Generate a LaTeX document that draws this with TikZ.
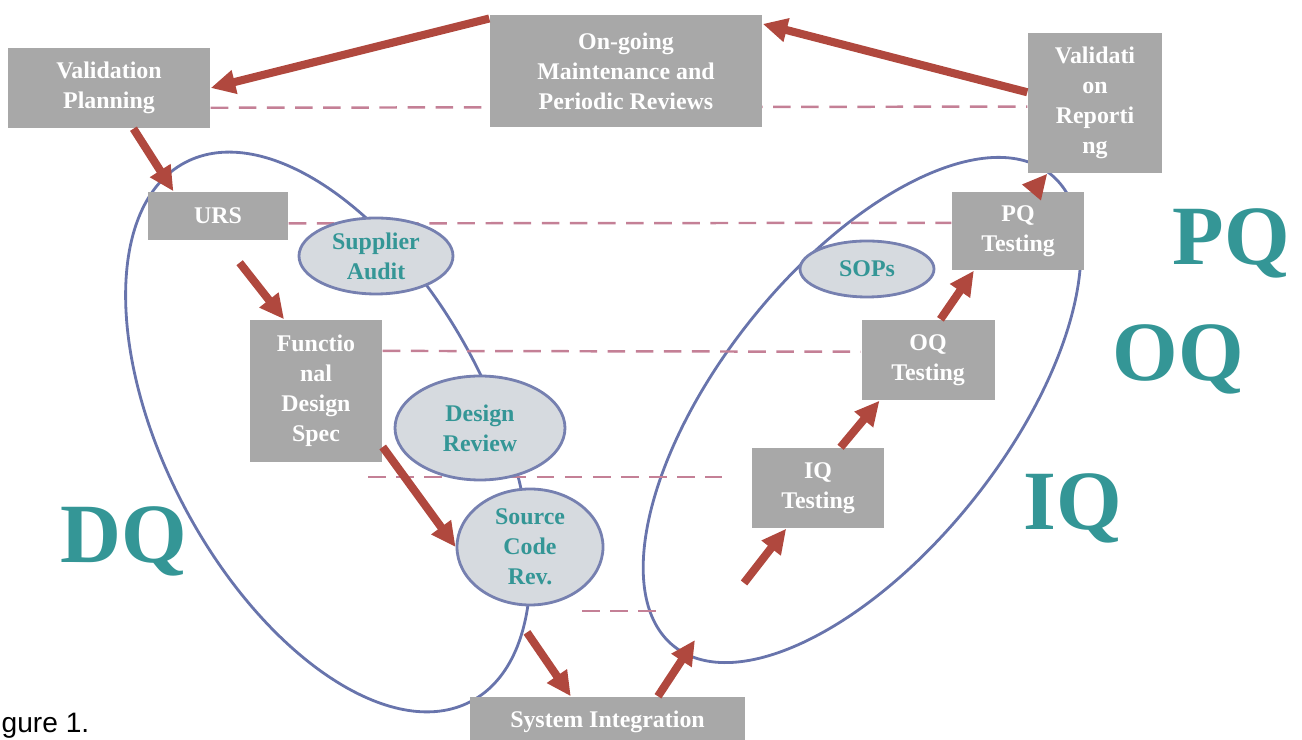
\documentclass[tikz,border=0pt]{standalone}
\usepackage{fontspec}
\setmainfont{Liberation Serif}
\newfontfamily\capfont{Liberation Sans}
\usetikzlibrary{arrows.meta,shapes.geometric,backgrounds}

\definecolor{boxgray}{RGB}{168,168,168}
\definecolor{ovalfill}{RGB}{214,218,223}
\definecolor{ovalline}{RGB}{118,128,176}
\definecolor{ringline}{RGB}{104,116,172}
\definecolor{tealq}{RGB}{52,150,150}
\definecolor{arrowred}{RGB}{176,72,62}
\definecolor{dashpink}{RGB}{196,128,150}

\begin{document}
\begin{tikzpicture}
[>={Triangle[length=7pt,width=6.5pt]},
box/.style={rectangle, fill=boxgray, text=white, inner sep=0pt, align=center,
  font=\fontsize{6.8}{8.5}\selectfont\bfseries},
oval/.style={ellipse, fill=ovalfill, draw=ovalline, line width=0.8pt, text=tealq,
  inner sep=0pt, align=center, font=\fontsize{6.8}{8.5}\selectfont\bfseries},
flow/.style={->, draw=arrowred, line width=2.3pt},
level/.style={draw=dashpink, line width=0.7pt, dash pattern=on 5pt off 3pt},
ring/.style={draw=ringline, line width=0.8pt},
bigq/.style={text=tealq, inner sep=0pt, anchor=base west,
  font=\fontsize{24}{24}\selectfont\bfseries}
]
  \useasboundingbox (0,0) rectangle (13.02,-7.40);

  % boxes
  \node[box, minimum width=2.02cm, minimum height=0.80cm] (vp) at (1.09,-0.88) {Validation\\Planning};
  \node[box, minimum width=2.72cm, minimum height=1.12cm] (og) at (6.26,-0.71) {On-going\\Maintenance and\\Periodic Reviews};
  \node[box, minimum width=1.34cm, minimum height=1.40cm] (vr) at (10.95,-1.03) {Validati\\on\\Reporti\\ng};
  \node[box, minimum width=1.40cm, minimum height=0.48cm] (urs) at (2.18,-2.16) {URS};
  \node[box, minimum width=1.32cm, minimum height=1.42cm] (fds) at (3.16,-3.91) {Functio\\nal\\Design\\Spec};
  \node[box, minimum width=1.32cm, minimum height=0.78cm] (pq) at (10.18,-2.31) {PQ\\Testing};
  \node[box, minimum width=1.33cm, minimum height=0.80cm] (oq) at (9.28,-3.60) {OQ\\Testing};
  \node[box, minimum width=1.32cm, minimum height=0.80cm] (iq) at (8.18,-4.88) {IQ\\Testing};
  \node[box, minimum width=2.75cm, minimum height=0.50cm] (si) at (6.075,-7.22) {System Integration};

  % ovals
  \node[oval, minimum width=1.54cm, minimum height=0.76cm] (sa) at (3.76,-2.56) {Supplier\\Audit};
  \node[oval, minimum width=1.70cm, minimum height=1.04cm] (dr) at (4.80,-4.28) {Design\\Review};
  \node[oval, minimum width=1.46cm, minimum height=1.16cm] (scr) at (5.30,-5.47) {Source\\Code\\Rev.};
  \node[oval, minimum width=1.34cm, minimum height=0.56cm] (sop) at (8.67,-2.69) {SOPs};

  % labels
  \node[bigq] (lpq) at (11.72,-2.65) {PQ};
  \node[bigq] (loq) at (11.12,-3.81) {OQ};
  \node[bigq] (liq) at (10.23,-5.30) {IQ};
  \node[bigq] (ldq) at (0.60,-5.63) {DQ};
  \node[anchor=base west, inner sep=0pt, font=\capfont\fontsize{8}{10}\selectfont] (cap) at (0.01,-7.33) {gure 1.};

  \coordinate (d4a) at (3.68,-4.77);
  \coordinate (d4b) at (7.22,-4.77);
  \coordinate (d5a) at (5.82,-6.11);
  \coordinate (d5b) at (6.57,-6.11);
  \coordinate (iqin) at (6.95,-6.40);
  \coordinate (iqup) at (7.44,-5.83);

  \begin{scope}[on background layer]
    \draw[ring, rotate around={-62:(3.28,-4.32)}] (3.28,-4.32) ellipse [x radius=3.05, y radius=1.62];
    \draw[ring, rotate around={51.5:(8.62,-4.10)}] (8.62,-4.10) ellipse [x radius=3.02, y radius=1.43];
    \path[level]
      (vp.-11) edge (vr.183)
      (urs.-6) edge (pq.173)
      (fds.31) edge (oq.173)
      (d4a) edge (d4b)
      (d5a) edge (d5b);
  \end{scope}

  \path
    (vr.171) edge[flow] (og.19)
    (og.159) edge[flow] (vp.east)
    (vp.-59) edge[flow] (urs.151)
    (urs.-80) edge[flow, shorten <=0.28cm] (fds.114)
    (fds.-40) edge[flow] (scr.west)
    (scr.-112) edge[flow, shorten <=0.35cm] (si.145)
    (si.27) edge[flow] (iqin)
    (iqup) edge[flow] (iq.-128)
    (iq.61) edge[flow] (oq.-140)
    (oq.73) edge[flow] (pq.-138)
    (pq.70) edge[flow] (vr.-124)
    ;
\end{tikzpicture}
\end{document}
